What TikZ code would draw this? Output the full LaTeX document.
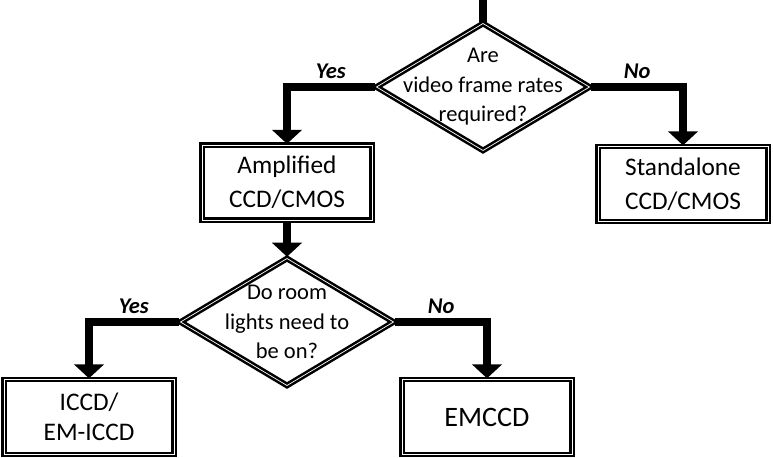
\documentclass[tikz,border=0pt]{standalone}
\usepackage{fontspec}
\setmainfont{Carlito}
\usetikzlibrary{shapes.geometric,arrows.meta}

\begin{document}
\begin{tikzpicture}[x=0.025cm,y=-0.025cm]
\tikzstyle{box}=[draw,double,line width=1.8pt,double distance=0.5pt,minimum width=4.25cm,minimum height=1.87cm,align=center,font=\fontsize{18}{24}\selectfont]
\tikzstyle{decision}=[draw,diamond,double,line width=1.8pt,double distance=0.5pt,minimum width=5.35cm,minimum height=3.2cm,inner sep=0pt]
\tikzstyle{qtext}=[align=center,font=\fontsize{16}{21}\selectfont]
\tikzstyle{flow}=[line width=5pt,-{Triangle[width=21pt,length=10pt]}]
\tikzstyle{lbl}=[font=\fontsize{16}{18}\selectfont\bfseries\itshape,above,inner sep=3.5pt]
\useasboundingbox (0,0) rectangle (773,458);
% decisions
\node[decision] (q1) at (483,87) {};
\node[qtext] (q1t) at (q1) {Are\\video frame rates\\required?};
\node[decision] (q2) at (287,322) {};
\node[qtext] (q2t) at (q2) {Do room\\lights need to\\be on?};
% outcomes
\node[box] (amp) at (287,182.5) {Amplified\\CCD/CMOS};
\node[box] (std) at (683,184) {Standalone\\CCD/CMOS};
\node[box,font=\fontsize{18}{21}\selectfont] (iccd) at (89,417) {ICCD/\\EM-ICCD};
\node[box,font=\fontsize{20}{24}\selectfont] (emccd) at (487,417) {EMCCD};
% flow
\coordinate (start) at (483,0);
\draw[line width=5pt] (start) -- (q1.north);
\draw[flow] (q1.west) -| node[lbl,pos=0.25] {Yes} (amp.north);
\draw[flow] (q1.east) -| node[lbl,pos=0.25] {No} (std.north);
\draw[flow] (amp.south) -- (q2.north);
\draw[flow] (q2.west) -| node[lbl,pos=0.25] {Yes} (iccd.north);
\draw[flow] (q2.east) -| node[lbl,pos=0.25] {No} (emccd.north);
\end{tikzpicture}
\end{document}
